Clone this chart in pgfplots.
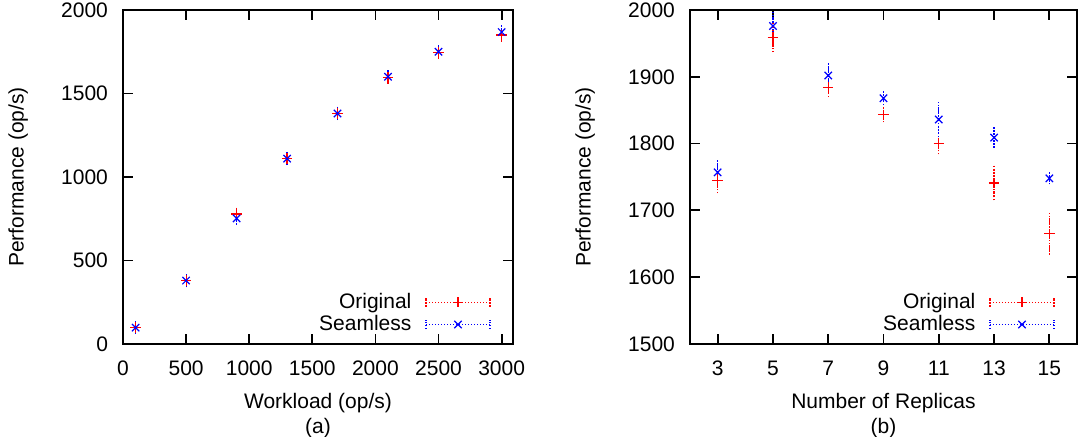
\documentclass[border=0pt]{standalone}
\usepackage{fontspec}
\setmainfont{Liberation Sans}
\usepackage{pgfplots}
\pgfplotsset{compat=1.18}

\definecolor{gpred}{RGB}{255,0,0}
\definecolor{gpblue}{RGB}{0,0,255}
\tikzset{gpdot/.style={dash pattern=on 0.7pt off 0.8pt, line width=0.6pt}}

\pgfplotsset{
  gp/.style={
    scale only axis,
    height=167pt,
    tick align=inside,
    major tick length=5pt,
    axis line style={line width=0.9pt},
    every tick/.style={line width=0.9pt, black},
    font=\fontsize{10.5}{12.5}\selectfont,
    /pgf/number format/assume math mode=true,
    /pgf/number format/1000 sep={},
    xticklabel style={yshift=-5pt},
    yticklabel style={xshift=-4pt},
    legend plot pos=right,
    legend cell align=right,
    legend style={draw=none, fill=none, at={(axis description cs:1,0)},
      anchor=south east, xshift=-11pt, yshift=3pt, inner sep=0pt,
      row sep=-2pt, nodes={inner sep=2pt},
      /tikz/every odd column/.append style={column sep=5pt}},
  },
  % error bars only, drawn first
  ebar/.style={color=#1, mark=none, draw=none, forget plot,
    error bars/y dir=both, error bars/y explicit,
    error bars/error bar style={gpdot, draw=#1},
    error bars/error mark options={gpdot, draw=#1, mark size=2.4pt},
  },
  orig/.style={only marks, color=gpred, mark=+, mark size=2.6pt,
    mark options={line width=0.6pt, solid},
    legend image code/.code={
      \draw[gpred, gpdot] (0pt,0pt) -- (32pt,0pt);
      \draw[gpred, gpdot] (0pt,-2.3pt) -- (0pt,2.3pt) (32pt,-2.3pt) -- (32pt,2.3pt);
      \draw[gpred, line width=0.6pt] plot[mark=+, mark size=2.6pt] coordinates {(16pt,0pt)};
    }},
  seam/.style={only marks, color=gpblue, mark=x, mark size=2.6pt,
    mark options={line width=0.6pt, solid},
    legend image code/.code={
      \draw[gpblue, gpdot] (0pt,0pt) -- (32pt,0pt);
      \draw[gpblue, gpdot] (0pt,-2.3pt) -- (0pt,2.3pt) (32pt,-2.3pt) -- (32pt,2.3pt);
      \draw[gpblue, line width=0.6pt] plot[mark=x, mark size=2.6pt] coordinates {(16pt,0pt)};
    }},
}

\pgfplotstableread{
x y e
100 98 8
500 378 10
900 778 10
1300 1112 10
1700 1382 10
2100 1596 10
2500 1745 10
3000 1850 12
}\aorig
\pgfplotstableread{
x y e
100 98 8
500 380 10
900 752 10
1300 1110 10
1700 1380 10
2100 1600 10
2500 1750 10
3000 1868 12
}\aseam
\pgfplotstableread{
x y e
3 1745 12
5 1959 15
7 1884 7
9 1843 4
11 1800 9
13 1741 19
15 1665 24
}\borig
\pgfplotstableread{
x y e
3 1757 11
5 1976 14
7 1902 11
9 1868 3
11 1836 19
13 1809 8
15 1748 2
}\bseam

\begin{document}
\begin{tikzpicture}
\path[use as bounding box] (-61.5pt,-46.5pt) rectangle (477.5pt,172pt);

% (a) workload
\begin{axis}[gp,
    width=195pt,
    at={(0pt,0pt)}, anchor=south west,
    xmin=0, xmax=3090, ymin=0, ymax=2000,
    xtick={0,500,...,3000}, ytick={0,500,...,2000},
    xlabel={Workload (op/s)\\(a)},
    xlabel style={at={(axis description cs:0.5,-0.214)}, anchor=center, align=center},
    ylabel={Performance (op/s)},
    ylabel style={at={(axis description cs:-0.269,0.5)}, anchor=center},
]
\addplot[ebar=gpred] table[y error=e] {\aorig};
\addplot[ebar=gpblue] table[y error=e] {\aseam};
\addplot[orig] table {\aorig};
\addlegendentry{Original}
\addplot[seam] table {\aseam};
\addlegendentry{Seamless}
\end{axis}

% (b) replicas
\begin{axis}[gp,
    width=193.5pt,
    at={(283.5pt,0pt)}, anchor=south west,
    xmin=2, xmax=16, ymin=1500, ymax=2000,
    xtick={3,5,...,15}, ytick={1500,1600,...,2000},
    xlabel={Number of Replicas\\(b)},
    xlabel style={at={(axis description cs:0.5,-0.214)}, anchor=center, align=center},
    ylabel={Performance (op/s)},
    ylabel style={at={(axis description cs:-0.271,0.5)}, anchor=center},
]
\addplot[ebar=gpred] table[y error=e] {\borig};
\addplot[ebar=gpblue] table[y error=e] {\bseam};
\addplot[orig] table {\borig};
\addlegendentry{Original}
\addplot[seam] table {\bseam};
\addlegendentry{Seamless}
\end{axis}
\end{tikzpicture}
\end{document}
